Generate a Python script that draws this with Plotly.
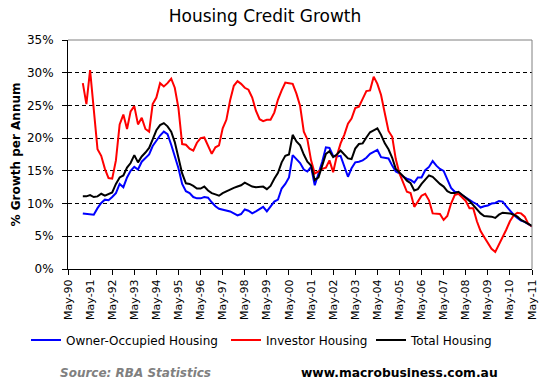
import pandas as pd
import plotly.graph_objects as go

# Bi-monthly observations, Jan-1991 .. May-2011
dates = pd.date_range("1991-01-01", "2011-05-01", freq="2MS")

owner_occupied = [
    8.5, 8.4, 8.3, 8.3, 9.3, 10.1, 10.6, 10.5, 11.0, 11.6, 13.0, 12.5, 14.0, 15.0,
    15.6, 15.2, 16.4, 17.0, 17.5, 18.8, 19.6, 20.4, 21.0, 20.6, 19.0, 17.2, 15.4, 13.0,
    11.9, 11.6, 11.0, 10.8, 10.8, 11.0, 10.9, 10.2, 9.6, 9.2, 9.1, 8.9, 8.8, 8.5,
    8.2, 8.4, 9.1, 8.9, 8.5, 8.8, 9.2, 9.5, 8.8, 9.5, 10.3, 10.6, 12.3, 13.0,
    14.0, 17.4, 16.8, 16.2,
    15.2, 14.9, 15.6, 12.8, 14.6, 16.4, 18.6, 18.5, 17.3, 17.2, 17.3, 15.6, 14.1, 15.4,
    16.3, 16.4, 16.6, 17.0, 17.6, 17.9, 18.2, 17.1, 17.0, 16.9, 15.8, 14.9, 14.6, 14.1,
    13.8, 13.6, 13.2,
    14.0, 14.0, 15.1, 15.6, 16.5, 15.8, 15.3, 15.0, 13.8, 12.4, 11.8, 11.7, 11.3, 10.9,
    10.6, 10.2, 9.9, 9.4, 9.6, 9.7, 10.0, 10.1, 10.4, 10.3, 9.6, 8.9, 8.3, 7.8,
    7.4, 7.2, 6.9, 6.5,
]

investor = [
    28.4, 25.2, 30.4, 24.0, 18.3, 17.3, 15.3, 13.9, 13.8, 16.6, 22.1, 23.6, 21.4, 24.1,
    24.9, 22.1, 23.1, 21.4, 21.0, 25.2, 26.2, 28.4, 27.9, 28.4, 29.1, 27.7, 24.6, 19.1,
    19.0, 18.4, 18.1, 19.3, 20.0, 20.1, 18.8, 17.6, 18.6, 18.9, 21.5, 22.8, 25.8, 28.0,
    28.7, 28.3, 27.7, 27.4, 26.2, 24.2, 22.9, 22.6, 22.8, 22.8, 23.9, 25.9, 27.3, 28.5,
    28.4, 28.3, 26.8, 24.9,
    21.0, 19.8, 16.6, 14.6, 14.9, 15.3, 15.5, 16.6, 14.8, 17.3, 19.2, 20.5, 22.2, 23.0,
    24.6, 24.8, 26.0, 27.2, 27.3, 29.4, 28.3, 26.6, 23.8, 21.1, 20.2, 16.8, 14.6, 13.1,
    11.8, 11.6, 9.5,
    10.3, 11.2, 11.5, 10.5, 8.5, 8.5, 8.4, 7.5, 8.1, 10.0, 11.3, 11.5, 11.0, 10.4,
    9.3, 9.3, 7.3, 5.8, 4.9, 4.0, 3.1, 2.6, 3.7, 4.8, 6.0, 7.3, 8.2, 8.6,
    8.5, 8.0, 6.9, 6.5,
]

total = [
    11.1, 11.1, 11.3, 11.0, 11.1, 11.5, 11.2, 11.5, 11.7, 13.0, 14.0, 14.3, 15.5, 16.2,
    17.4, 16.3, 17.2, 17.8, 18.5, 19.8, 21.2, 22.0, 22.3, 21.8, 21.0, 19.4, 17.2, 14.6,
    13.1, 13.0, 12.7, 12.3, 12.3, 12.6, 12.0, 11.6, 11.4, 11.2, 11.6, 11.9, 12.2, 12.4,
    12.6, 12.8, 13.2, 12.9, 12.6, 12.5, 12.6, 12.6, 12.2, 12.7, 13.8, 14.7, 16.3, 17.3,
    17.5, 20.5, 19.5, 18.9,
    17.5, 16.4, 15.8, 13.6, 14.0, 15.7, 17.6, 18.0, 17.1, 17.5, 18.1, 17.5, 16.9, 16.8,
    18.4, 19.1, 19.2, 20.1, 20.9, 21.2, 21.5, 20.5, 19.2, 18.3, 17.0, 15.3, 14.8, 14.2,
    13.5, 13.1, 12.0,
    12.2, 13.0, 13.6, 14.3, 14.1, 13.5, 13.0, 12.6, 11.9, 11.6, 11.6, 11.8, 11.4, 10.9,
    10.4, 9.8, 9.1, 8.5, 8.1, 8.1, 8.0, 7.8, 8.3, 8.6, 8.6, 8.5, 8.3, 8.0,
    7.5, 7.2, 6.9, 6.6,
]

tick_dates = [f"{y}-05-01" for y in range(1990, 2012)]
tick_labels = [
    "May-90", "May-91", "May-92", "May-93", "May-94", "May-95", "May-96", "May-97",
    "May-98", "May-99", "May-00", "May-01", "May-02", "May-03", "May-04", "May-05",
    "May-06", "May-07", "May-08", "May-09", "May-10", "May-11",
]
y_ticks = [0, 5, 10, 15, 20, 25, 30, 35]
y_labels = ["0%", "5%", "10%", "15%", "20%", "25%", "30%", "35%"]

FONT = "DejaVu Sans"
W, H = 544, 384
LEG_Y = 1 - 340 / H


def legend_at(px):
    return dict(orientation="h", xref="container", yref="container",
                x=px / W, xanchor="left", y=LEG_Y, yanchor="middle",
                font=dict(family=FONT, size=12, color="black"),
                itemwidth=30, bgcolor="rgba(0,0,0,0)")


fig = go.Figure()
fig.add_trace(go.Scatter(x=dates, y=owner_occupied, mode="lines",
                         name="Owner-Occupied Housing", legend="legend",
                         line=dict(color="#0000FF", width=2)))
fig.add_trace(go.Scatter(x=dates, y=investor, mode="lines",
                         name="Investor Housing", legend="legend2",
                         line=dict(color="#FF0000", width=2)))
fig.add_trace(go.Scatter(x=dates, y=total, mode="lines",
                         name="Total Housing", legend="legend3",
                         line=dict(color="#000000", width=2)))

fig.update_layout(
    width=W, height=H,
    margin=dict(l=68, r=12, t=40, b=115, autoexpand=False),
    paper_bgcolor="white", plot_bgcolor="white",
    font=dict(family=FONT, color="black"),
    title=dict(text="Housing Credit Growth", x=265 / W, xanchor="center",
               xref="container", y=1 - 16 / H, yanchor="middle", yref="container",
               font=dict(family=FONT, size=17, color="black")),
    showlegend=True,
    legend=legend_at(26),
    legend2=legend_at(226),
    legend3=legend_at(371),
    xaxis=dict(type="date", range=["1990-05-01", "2011-05-01"],
               tickmode="array", tickvals=tick_dates, ticktext=tick_labels,
               tickangle=-90, tickfont=dict(family=FONT, size=11),
               ticks="outside", ticklen=5, tickcolor="black",
               showline=True, linecolor="black", linewidth=1,
               showgrid=False, zeroline=False, fixedrange=True, automargin=False),
    yaxis=dict(range=[0, 35], tickmode="array", tickvals=y_ticks, ticktext=y_labels,
               tickfont=dict(family=FONT, size=12),
               ticks="outside", ticklen=5, tickcolor="black",
               ticklabelstandoff=6, automargin=False,
               showline=True, linecolor="black", linewidth=1,
               showgrid=True, gridcolor="black", gridwidth=1, griddash="4px,3px",
               zeroline=False, fixedrange=True,
               title=dict(text="<b>% Growth per Annum</b>",
                          font=dict(family=FONT, size=12), standoff=3)),
    shapes=[
        dict(type="line", xref="paper", yref="paper", x0=0, x1=1, y0=1, y1=1,
             line=dict(color="#808080", width=1), layer="above"),
        dict(type="line", xref="paper", yref="paper", x0=1, x1=1, y0=0, y1=1,
             line=dict(color="#808080", width=1), layer="above"),
    ],
    annotations=[
        dict(text="<b><i>Source: RBA Statistics</i></b>", xref="paper", yref="paper",
             x=(58 - 68) / 464, xanchor="left", y=-(373 - 269) / 229, yanchor="middle",
             showarrow=False, font=dict(family=FONT, size=12, color="#808080")),
        dict(text="<b>www.macrobusiness.com.au</b>", xref="paper", yref="paper",
             x=(500 - 68) / 464, xanchor="right", y=-(373 - 269) / 229, yanchor="middle",
             showarrow=False, font=dict(family=FONT, size=12.3, color="black")),
    ],
)

fig.write_html(
    "out.html",
    config={"displayModeBar": False},
    post_script="document.body.style.margin='0px';document.body.style.overflow='hidden';",
)
